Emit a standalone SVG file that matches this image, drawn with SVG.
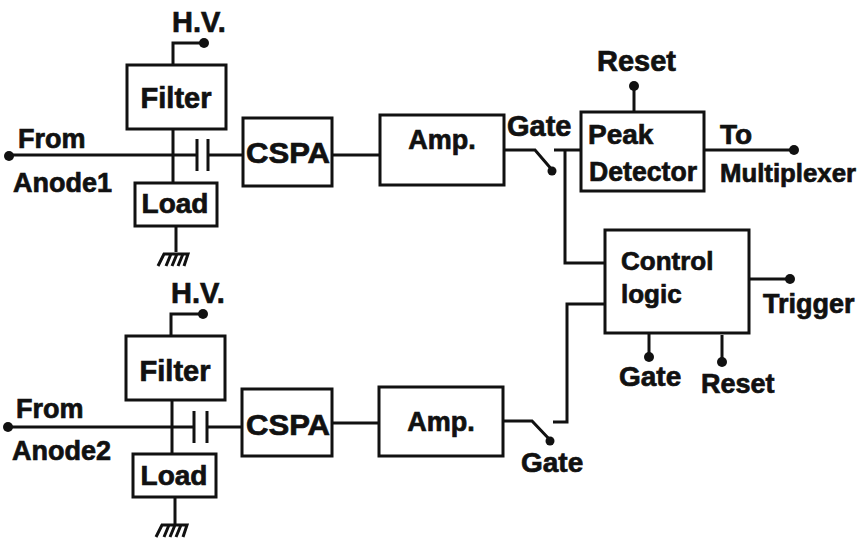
<svg xmlns="http://www.w3.org/2000/svg" width="861" height="541" viewBox="0 0 861 541">
<style>
rect{fill:#fff;stroke:#111;stroke-width:3}
.c path{fill:none;stroke:#111;stroke-width:3}
.c circle{fill:#111}
.g path{fill:none;stroke:#111;stroke-width:3}
text{font-family:"Liberation Sans",Arial,sans-serif;font-weight:bold;font-size:27px;fill:#111;stroke:#111;stroke-width:.7}
.l{font-size:29px}
.m{font-size:28px}
.s{font-size:26px}
</style>
<rect width="861" height="541" style="fill:#fff;stroke:none"/>
<g id="connectors" class="c">
<path d="M173 64V43H204"/><circle cx="204" cy="43" r="5"/>
<path d="M8 155H196M208 155H243M173 130V182M197 139V171M208 139V171"/><circle cx="9" cy="156" r="5"/>
<path d="M176 226V252"/>
<path d="M171 335V314H203"/><circle cx="203" cy="314" r="5"/>
<path d="M8 427H193M208 427H242M172 401V453M194 411V443M207 411V443"/><circle cx="8" cy="427" r="5"/>
<path d="M175 497V525"/>
<path d="M333 155H380M333 423H379"/>
<path d="M504 150H535L553 171"/><circle cx="552" cy="171" r="4.500"/>
<path d="M554 150H581M565 150V263H604"/>
<path d="M634 85V112"/><circle cx="634" cy="86" r="5"/>
<path d="M705 150H794"/><circle cx="794" cy="150" r="5"/>
<path d="M503 421H532L551 441"/><circle cx="550" cy="441" r="4.500"/>
<path d="M553 422H567V304H604"/>
<path d="M749 279H790"/><circle cx="790" cy="279" r="5"/>
<path d="M649 333V358"/><circle cx="649" cy="357" r="5"/>
<path d="M722 335V362"/><circle cx="722" cy="362" r="5"/>
</g>
<g id="ground1" class="g"><path d="M158 266L164 254H188L184 266M166 266L171 254M172 266L177 254M178 266L183 254"/></g>
<g id="ground2" class="g"><path d="M156 537L162 525H187L183 537M164 537L169 525M170 537L175 525M176 537L181 525"/></g>
<g id="label-hv1"><text class="l" x="172" y="32">H.V.</text></g>
<g id="filter1"><rect x="127" y="65" width="99" height="64"/><text class="l" x="176" y="108" text-anchor="middle">Filter</text></g>
<g id="load1"><rect x="135" y="183" width="82" height="43"/><text class="m" x="175" y="213" text-anchor="middle">Load</text></g>
<g id="cspa1"><rect x="243" y="118" width="89" height="68"/><text class="l" x="288" y="163" text-anchor="middle" textLength="84" lengthAdjust="spacingAndGlyphs">CSPA</text></g>
<g id="amp1"><rect x="380" y="115" width="124" height="70"/><text x="442" y="149" text-anchor="middle">Amp.</text></g>
<g id="label-from1"><text x="18" y="148">From</text><text x="13" y="192">Anode1</text></g>
<g id="label-gate1"><text class="l" x="507" y="136">Gate</text></g>
<g id="label-reset1"><text class="l" x="597" y="71">Reset</text></g>
<g id="peak"><rect x="581" y="112" width="123" height="79"/><text class="m" x="588" y="144">Peak</text><text x="589" y="181" textLength="108" lengthAdjust="spacingAndGlyphs">Detector</text></g>
<g id="label-mux"><text class="m" x="720" y="144">To</text><text class="s" x="720" y="182" textLength="136" lengthAdjust="spacingAndGlyphs">Multiplexer</text></g>
<g id="control"><rect x="605" y="230" width="144" height="103"/><text class="s" x="621" y="270">Control</text><text class="s" x="621" y="303">logic</text></g>
<g id="label-trigger"><text x="763" y="313">Trigger</text></g>
<g id="label-gate3"><text class="m" x="619" y="386">Gate</text></g>
<g id="label-reset3"><text x="701" y="393">Reset</text></g>
<g id="label-hv2"><text class="l" x="171" y="303">H.V.</text></g>
<g id="filter2"><rect x="126" y="336" width="99" height="64"/><text class="l" x="175" y="381" text-anchor="middle">Filter</text></g>
<g id="load2"><rect x="133" y="454" width="83" height="43"/><text class="m" x="174" y="485" text-anchor="middle">Load</text></g>
<g id="cspa2"><rect x="242" y="389" width="90" height="67"/><text class="l" x="288" y="435" text-anchor="middle" textLength="84" lengthAdjust="spacingAndGlyphs">CSPA</text></g>
<g id="amp2"><rect x="379" y="387" width="124" height="69"/><text x="441" y="431" text-anchor="middle">Amp.</text></g>
<g id="label-from2"><text x="16" y="418">From</text><text x="12" y="460">Anode2</text></g>
<g id="label-gate2"><text class="m" x="521" y="472">Gate</text></g>
</svg>
